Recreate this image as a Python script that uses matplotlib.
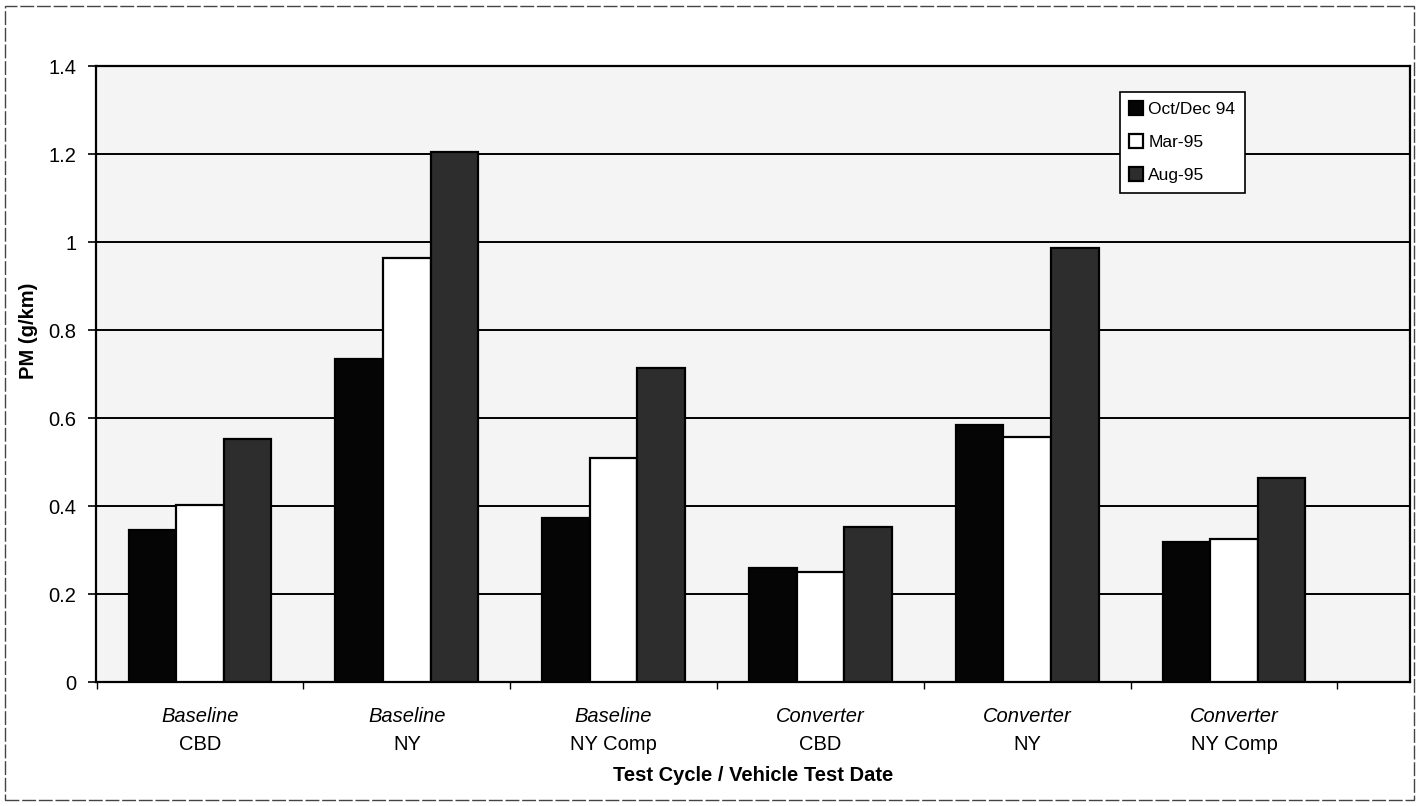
import matplotlib
matplotlib.use("Agg")
import matplotlib.pyplot as plt
import numpy as np
from matplotlib.patches import Rectangle

# Categories (two-line labels: test cycle / vehicle configuration)
cat_top = ["Baseline", "Baseline", "Baseline", "Converter", "Converter", "Converter"]
cat_bottom = ["CBD", "NY", "NY Comp", "CBD", "NY", "NY Comp"]

series_names = ["Oct/Dec 94", "Mar-95", "Aug-95"]
oct_dec_94 = [0.345, 0.735, 0.372, 0.26, 0.585, 0.318]
mar_95 = [0.402, 0.963, 0.51, 0.249, 0.557, 0.325]
aug_95 = [0.552, 1.205, 0.713, 0.352, 0.987, 0.463]

y_ticks = [0, 0.2, 0.4, 0.6, 0.8, 1.0, 1.2, 1.4]
y_tick_labels = ["0", "0.2", "0.4", "0.6", "0.8", "1", "1.2", "1.4"]

plt.rcParams["font.family"] = ["Liberation Sans", "DejaVu Sans"]
FS = 14.5

fig = plt.figure(figsize=(14.2, 8.06), dpi=100)
ax = fig.add_axes([96 / 1420, 1 - 682 / 806, 1314 / 1420, 616 / 806])

ax.set_facecolor("#f4f4f4")
ax.set_axisbelow(True)

x = np.arange(len(cat_bottom))
w = 0.23
fills = ["#050505", "#ffffff", "#2d2d2d"]
for k, (vals, name, fc) in enumerate(zip([oct_dec_94, mar_95, aug_95], series_names, fills)):
    ax.bar(x + (k - 1) * w, vals, width=w, color=fc, edgecolor="black",
           linewidth=1.6, label=name, zorder=3)

# plot frame runs a little past the last category on the right
ax.set_xlim(-0.503, 5.851)
ax.set_ylim(0, 1.4)
ax.set_yticks(y_ticks)
ax.set_yticklabels(y_tick_labels, fontsize=FS)
ax.yaxis.grid(True, color="black", linewidth=1.4)
ax.tick_params(axis="y", direction="out", length=6, width=1.2, pad=8)

# Category boundary ticks on the x axis
ax.set_xticks(np.arange(-0.5, len(cat_bottom), 1.0))
ax.set_xticklabels([])
ax.tick_params(axis="x", direction="out", length=5, width=1.0)

for i in range(len(cat_bottom)):
    ax.annotate(cat_top[i], xy=(i, 0), xycoords=("data", "axes fraction"),
                xytext=(0, -25), textcoords="offset points", ha="center", va="center",
                fontsize=FS, style="italic")
    ax.annotate(cat_bottom[i], xy=(i, 0), xycoords=("data", "axes fraction"),
                xytext=(0, -45), textcoords="offset points", ha="center", va="center",
                fontsize=FS)

for s in ax.spines.values():
    s.set_color("black")
    s.set_linewidth(1.6)

ax.set_xlabel("Test Cycle / Vehicle Test Date", fontsize=FS, fontweight="bold", labelpad=52)
ax.set_ylabel("PM (g/km)", fontsize=FS, fontweight="bold")
ax.yaxis.set_label_coords(-0.044, 0.57)

leg = ax.legend(loc="upper left", bbox_to_anchor=(0.779, 0.958), fontsize=12.5,
                frameon=True, fancybox=False, edgecolor="black", framealpha=1,
                handlelength=0.8, handleheight=0.8, handletextpad=0.3,
                borderpad=0.55, labelspacing=1.0, borderaxespad=0)
leg.get_frame().set_linewidth(1.2)

# Thin border around the whole figure
fig.patches.append(Rectangle((5 / 1420, 6 / 806), 1409 / 1420, 794 / 806,
                             transform=fig.transFigure, fill=False,
                             edgecolor="#444444", linewidth=1.0,
                             linestyle=(0, (10, 2))))

fig.savefig("out.png", dpi=100)
